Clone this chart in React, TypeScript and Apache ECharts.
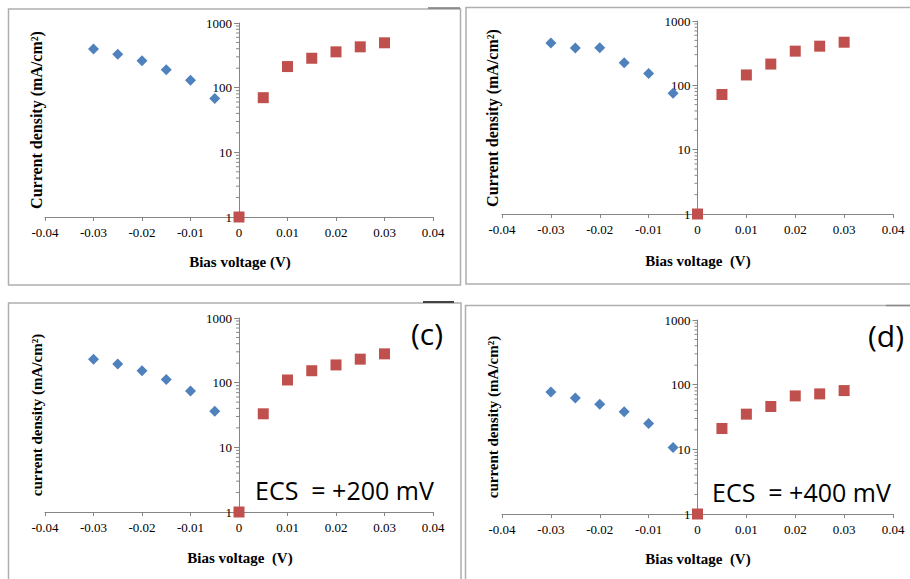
import React, { useEffect, useRef } from 'react';
import * as echarts from 'echarts';

// Bias voltage values (V)
const negVoltage = [-0.03, -0.025, -0.02, -0.015, -0.01, -0.005];
const posVoltage = [0, 0.005, 0.01, 0.015, 0.02, 0.025, 0.03];

// Current density (mA/cm²) per panel
const negA = [395, 330, 260, 190, 130, 68];
const posA = [1, 70, 212, 285, 358, 428, 494];
const negB = [456, 382, 385, 224, 153, 75];
const posB = [1, 72, 145, 214, 340, 406, 468];
const negC = [231, 195, 153, 112, 74, 36];
const posC = [1, 33, 110, 153, 188, 231, 279];
const negD = [77, 62, 50, 38, 25, 10.7];
const posD = [1, 21, 35, 46, 67, 72, 81];

// Axis ranges and log minor ticks
const xMin = -0.04;
const xMax = 0.04;
const xInterval = 0.01;
const yMin = 1;
const yMax = 1000;
const decades = [1, 10, 100];
const minorMultipliers = [2, 3, 4, 5, 6, 7, 8, 9];

const panelData = [
  { neg: negA, pos: posA },
  { neg: negB, pos: posB },
  { neg: negC, pos: posC },
  { neg: negD, pos: posD },
];

const gridBoxes = [
  { left: 45, right: 477, top: 23, bottom: 362 },
  { left: 502, right: 17, top: 21, bottom: 365 },
  { left: 45, right: 477, top: 318, bottom: 67 },
  { left: 502, right: 17, top: 320, bottom: 65 },
];

const W = 910;
const AXIS_COLOR = '#868686';
const SERIF = '"Liberation Serif", "Times New Roman", serif';
const SANS = '"Open Sans", "Noto Sans", sans-serif';

export default function App() {
  const ref = useRef<HTMLDivElement>(null);

  useEffect(() => {
    const chart = echarts.init(ref.current!, null, { renderer: 'svg' });

    const minorData: number[][] = [];
    decades.forEach((d) => minorMultipliers.forEach((m) => minorData.push([0, d * m])));

    const grids: any[] = [];
    const xAxes: any[] = [];
    const yAxes: any[] = [];
    const series: any[] = [];

    gridBoxes.forEach((g, i) => {
      const gridWidth = W - g.left - g.right;
      // y axis crosses at x = 0, which is the middle of the symmetric x range
      const zeroOffset = -gridWidth * ((0 - xMin) / (xMax - xMin));
      grids.push({ ...g, containLabel: false });
      xAxes.push({
        gridIndex: i,
        type: 'value',
        min: xMin,
        max: xMax,
        interval: xInterval,
        axisLine: { show: true, onZero: false, lineStyle: { color: AXIS_COLOR, width: 1 } },
        axisTick: { show: true, length: 4, lineStyle: { color: AXIS_COLOR } },
        splitLine: { show: false },
        axisLabel: {
          color: '#000',
          fontFamily: SERIF,
          fontSize: 13,
          margin: 9,
          formatter: (v: number) => {
            const r = Math.round(v * 100) / 100;
            return r === 0 ? '0' : String(r);
          },
        },
      });
      yAxes.push({
        gridIndex: i,
        type: 'log',
        logBase: 10,
        min: yMin,
        max: yMax,
        position: 'left',
        offset: zeroOffset,
        axisLine: { show: true, onZero: false, lineStyle: { color: AXIS_COLOR, width: 1 } },
        axisTick: { show: true, length: 5, lineStyle: { color: AXIS_COLOR } },
        minorTick: { show: false },
        splitLine: { show: false },
        axisLabel: {
          color: '#000',
          fontFamily: SERIF,
          fontSize: 13,
          margin: 7,
          formatter: (v: number) => String(Math.round(v)),
        },
      });
      series.push({
        type: 'custom',
        xAxisIndex: i,
        yAxisIndex: i,
        silent: true,
        z: 1,
        data: minorData,
        renderItem: (params: any, api: any) => {
          const p = api.coord([api.value(0), api.value(1)]);
          return {
            type: 'line',
            shape: { x1: p[0] - 3, y1: p[1], x2: p[0], y2: p[1] },
            style: { stroke: AXIS_COLOR, lineWidth: 1 },
          };
        },
      });
      series.push({
        type: 'scatter',
        xAxisIndex: i,
        yAxisIndex: i,
        symbol: 'diamond',
        symbolSize: 11,
        itemStyle: { color: '#4F81BD', opacity: 1 },
        z: 3,
        data: negVoltage.map((x, k) => [x, panelData[i].neg[k]]),
      });
      series.push({
        type: 'scatter',
        xAxisIndex: i,
        yAxisIndex: i,
        symbol: 'rect',
        symbolSize: 11,
        itemStyle: { color: '#C0504D', opacity: 1 },
        z: 3,
        data: posVoltage.map((x, k) => [x, panelData[i].pos[k]]),
      });
    });

    const frame = (x: number, y: number, w: number, h: number) => ({
      type: 'rect',
      shape: { x, y, width: w, height: h },
      style: { fill: 'none', stroke: '#AEAEAE', lineWidth: 1.5 },
      silent: true,
    });
    const seg = (x1: number, y1: number, x2: number, y2: number, color: string, lw: number) => ({
      type: 'line',
      shape: { x1, y1, x2, y2 },
      style: { stroke: color, lineWidth: lw },
      silent: true,
    });
    const text = (
      t: string,
      x: number,
      y: number,
      size: number,
      opts: { rot?: boolean; bold?: boolean; family?: string; align?: string } = {}
    ) => ({
      type: 'text',
      x,
      y,
      rotation: opts.rot ? Math.PI / 2 : 0,
      silent: true,
      style: {
        text: t,
        fill: '#000',
        fontSize: size,
        fontWeight: opts.bold ? 'bold' : 'normal',
        fontFamily: opts.family || SERIF,
        align: opts.align || 'center',
        verticalAlign: 'middle',
      },
    });

    const graphic = [
      frame(8.5, 9, 452, 276),
      frame(466, 7.5, 460, 276.5),
      frame(8.5, 303, 452.5, 300),
      frame(465.5, 305.5, 460, 300),
      seg(428, 8, 460, 8, '#7a7a7a', 1.5),
      seg(423, 302, 454, 302, '#444', 2),
      seg(886, 305.5, 910, 305.5, '#888', 1.5),
      // axis titles
      text('Bias voltage (V)', 240, 262, 15, { bold: true }),
      text('Current density (mA/cm²)', 36, 120, 16, { bold: true, rot: true }),
      text('Bias voltage  (V)', 698, 261, 15, { bold: true }),
      text('Current density (mA/cm²)', 492, 118, 16, { bold: true, rot: true }),
      text('Bias voltage  (V)', 240, 558, 15, { bold: true }),
      text('current density (mA/cm²)', 37, 415, 15, { bold: true, rot: true }),
      text('Bias voltage  (V)', 698, 559, 15, { bold: true }),
      text('current density (mA/cm²)', 493, 417, 15, { bold: true, rot: true }),
      // panel annotations
      text('(c)', 427, 333, 30, { family: SANS }),
      text('(d)', 868, 335, 30, { family: SANS, align: 'left' }),
      text('ECS  = +200 mV', 255, 490, 25, { family: SANS, align: 'left' }),
      text('ECS  = +400 mV', 712, 492, 25, { family: SANS, align: 'left' }),
    ];

    chart.setOption({
      animation: false,
      backgroundColor: '#fff',
      grid: grids,
      xAxis: xAxes,
      yAxis: yAxes,
      series,
      graphic,
    });

    return () => chart.dispose();
  }, []);

  return (
    <div
      ref={ref}
      style={{ position: 'fixed', left: 0, top: 0, width: 910, height: 579, background: '#fff' }}
    />
  );
}
